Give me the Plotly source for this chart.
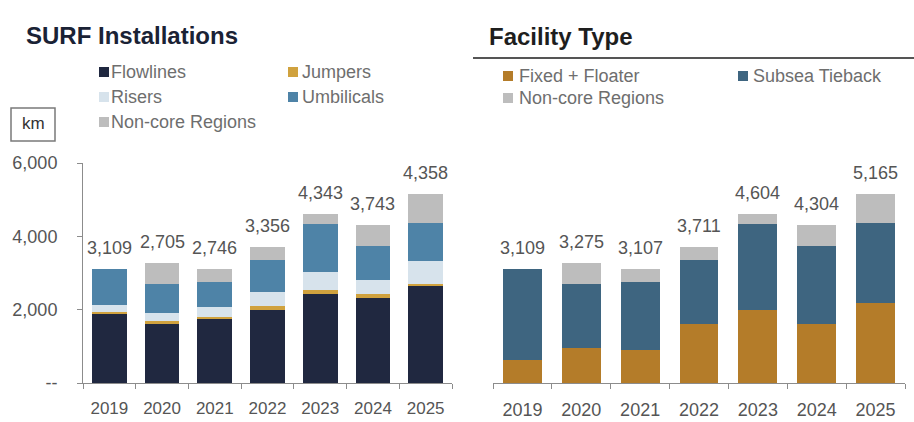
import plotly.graph_objects as go

# ---- data (km) ----
years = ["2019", "2020", "2021", "2022", "2023", "2024", "2025"]

# SURF installations by product
flowlines = [1900, 1620, 1740, 2000, 2420, 2330, 2640]
jumpers = [50, 70, 60, 100, 110, 100, 70]
risers = [180, 220, 280, 380, 490, 390, 610]
umbilicals = [979, 795, 666, 876, 1323, 923, 1038]
noncore = [0, 570, 361, 355, 261, 561, 807]

# Same volumes split by facility type
fixed_floater = [630, 950, 900, 1620, 1990, 1620, 2190]
subsea_tieback = [2479, 1755, 1846, 1736, 2353, 2123, 2168]

y_ticks = [0, 2000, 4000, 6000]
y_tick_text = ["--", "2,000", "4,000", "6,000"]

# ---- styling ----
W, H = 914, 422
FONT = "Liberation Sans, Arial, sans-serif"
C_FLOW = "#202840"
C_JUMP = "#d0a23e"
C_RISER = "#d7e3ec"
C_UMB = "#4e83a7"
C_NONCORE = "#bdbdbd"
C_FIXED = "#b47c29"
C_SUBSEA = "#3e6580"
TXT = "#555555"
AXIS = "#8c8c8c"


def px(x):
    return x / W


def py(y):
    return 1 - y / H


fig = go.Figure()

left_series = [
    ("Flowlines", flowlines, C_FLOW),
    ("Jumpers", jumpers, C_JUMP),
    ("Risers", risers, C_RISER),
    ("Umbilicals", umbilicals, C_UMB),
    ("Non-core Regions", noncore, C_NONCORE),
]
for name, vals, col in left_series:
    fig.add_trace(go.Bar(x=years, y=vals, name=name, marker=dict(color=col, line=dict(width=0)),
                         xaxis="x", yaxis="y", showlegend=False, hoverinfo="x+y+name"))

right_series = [
    ("Fixed + Floater", fixed_floater, C_FIXED),
    ("Subsea Tieback", subsea_tieback, C_SUBSEA),
    ("Non-core Regions", noncore, C_NONCORE),
]
for name, vals, col in right_series:
    fig.add_trace(go.Bar(x=years, y=vals, name=name, marker=dict(color=col, line=dict(width=0)),
                         xaxis="x2", yaxis="y2", showlegend=False, hoverinfo="x+y+name"))

annotations = []
# totals above the bars (category index used as x position)
for i, yr in enumerate(years):
    core = flowlines[i] + jumpers[i] + risers[i] + umbilicals[i]
    full_left = core + noncore[i]
    annotations.append(dict(x=i, y=full_left, xref="x", yref="y", text=f"{core:,}",
                            showarrow=False, yanchor="middle", yshift=21,
                            font=dict(family=FONT, size=18, color=TXT)))
    full_right = fixed_floater[i] + subsea_tieback[i] + noncore[i]
    annotations.append(dict(x=i, y=full_right, xref="x2", yref="y2", text=f"{full_right:,}",
                            showarrow=False, yanchor="middle", yshift=21,
                            font=dict(family=FONT, size=18, color=TXT)))

# panel titles
annotations.append(dict(x=px(24), y=py(35), xref="paper", yref="paper", text="<b>SURF Installations</b>",
                        showarrow=False, xanchor="left", yanchor="middle",
                        font=dict(family=FONT, size=24, color="#1a2235")))
annotations.append(dict(x=px(487), y=py(36), xref="paper", yref="paper", text="<b>Facility Type</b>",
                        showarrow=False, xanchor="left", yanchor="middle",
                        font=dict(family=FONT, size=24, color="#1e1e1e")))

# unit box label
annotations.append(dict(x=px(33), y=py(124), xref="paper", yref="paper", text="km",
                        showarrow=False, xanchor="center", yanchor="middle",
                        font=dict(family=FONT, size=17, color="#333333")))

shapes = [
    # rule under the right-hand title
    dict(type="line", xref="paper", yref="paper", x0=px(473), x1=px(914), y0=py(58), y1=py(58),
         line=dict(color="#555555", width=2)),
    # unit box
    dict(type="rect", xref="paper", yref="paper", x0=px(11), x1=px(55), y0=py(108), y1=py(141),
         line=dict(color="#7a7a7a", width=1.5), fillcolor="rgba(0,0,0,0)"),
]

# hand-placed legend entries: (label, colour, square left x, text left x, centre y)
legend_items = [
    ("Flowlines", C_FLOW, 99, 109, 72),
    ("Risers", C_RISER, 99, 109, 97),
    ("Non-core Regions", C_NONCORE, 99, 109, 122),
    ("Jumpers", C_JUMP, 288, 300, 72),
    ("Umbilicals", C_UMB, 288, 300, 97),
    ("Fixed + Floater", C_FIXED, 503, 517, 76),
    ("Non-core Regions", C_NONCORE, 503, 517, 98),
    ("Subsea Tieback", C_SUBSEA, 738, 751, 76),
]
SQ = 10
for label, col, sx, tx, cy in legend_items:
    shapes.append(dict(type="rect", xref="paper", yref="paper",
                       x0=px(sx), x1=px(sx + SQ), y0=py(cy + SQ / 2), y1=py(cy - SQ / 2),
                       line=dict(width=0), fillcolor=col))
    annotations.append(dict(x=px(tx), y=py(cy), xref="paper", yref="paper", text=label,
                            showarrow=False, xanchor="left", yanchor="middle",
                            font=dict(family=FONT, size=18, color="#6e6e6e")))

y_dom = [py(383), py(163)]
x_range = [-0.5, len(years) - 0.5]

fig.update_layout(
    width=W, height=H,
    margin=dict(l=0, r=0, t=0, b=0, pad=0, autoexpand=False),
    paper_bgcolor="white", plot_bgcolor="white",
    barmode="stack", bargap=0.34,
    showlegend=False,
    font=dict(family=FONT, color=TXT),
    annotations=annotations,
    shapes=shapes,
    xaxis=dict(domain=[px(83), px(452)], anchor="y", type="category", automargin=False,
               categoryorder="array", categoryarray=years, range=x_range,
               showline=True, linecolor=AXIS, linewidth=1,
               ticks="outside", tickson="boundaries", ticklen=5, tickcolor=AXIS,
               ticklabelstandoff=10, tickangle=0,
               tickfont=dict(family=FONT, size=17, color=TXT), showgrid=False),
    yaxis=dict(domain=y_dom, anchor="x", range=[0, 6000], automargin=False,
               tickvals=y_ticks, ticktext=y_tick_text,
               showline=True, linecolor=AXIS, linewidth=1,
               ticks="outside", ticklen=5, tickcolor=AXIS,
               ticklabelstandoff=16,
               tickfont=dict(family=FONT, size=18, color=TXT),
               showgrid=False, zeroline=False),
    xaxis2=dict(domain=[px(493), px(905)], anchor="y2", type="category", automargin=False,
                categoryorder="array", categoryarray=years, range=x_range,
                showline=True, linecolor=AXIS, linewidth=1,
                ticks="outside", tickson="boundaries", ticklen=5, tickcolor=AXIS,
                ticklabelstandoff=10, tickangle=0,
                tickfont=dict(family=FONT, size=18, color=TXT), showgrid=False),
    yaxis2=dict(domain=y_dom, anchor="x2", range=[0, 6000], automargin=False,
                showline=False, showticklabels=False, ticks="",
                showgrid=False, zeroline=False),
)

fig.write_html("out.html")
